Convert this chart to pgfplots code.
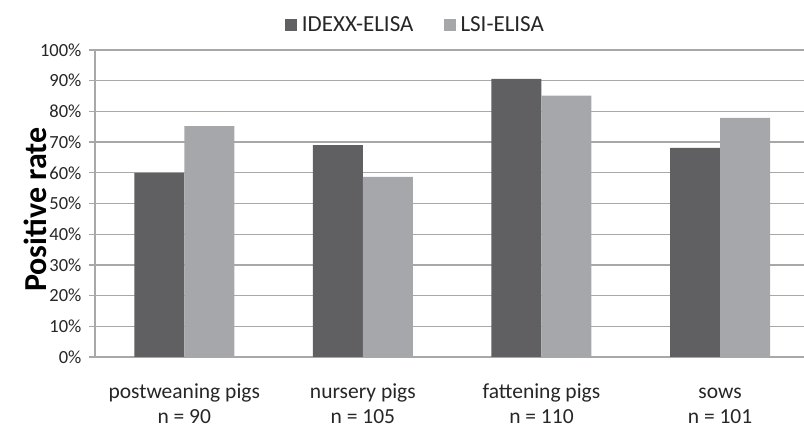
\documentclass[border=0pt]{standalone}
\usepackage{pgfplots}
\pgfplotsset{compat=1.18}
\usepackage{fontspec}
\setmainfont{Carlito}
\definecolor{darkbar}{HTML}{606062}
\definecolor{lightbar}{HTML}{A6A7AA}
\definecolor{gridc}{HTML}{A8A8A8}
\definecolor{txt}{HTML}{262626}
\begin{document}
\begin{tikzpicture}
\begin{axis}[
  scale only axis, width=709pt, height=307pt,
  ymin=0, ymax=100, ytick={0,10,...,100},
  yticklabel={\pgfmathprintnumber{\tick}\%},
  /pgf/number format/assume math mode=true,
  yticklabel style={font=\fontsize{18.5}{20}\selectfont, text=txt, xshift=-4pt},
  xmin=-0.5, xmax=3.47,
  xtick={0,1,2,3},
  xticklabels={{\strut postweaning pigs\\\strut n = 90},{\strut nursery pigs\\\strut n = 105},{\strut fattening pigs\\\strut n = 110},{\strut sows\\\strut n = 101}},
  xticklabel style={align=center, font=\fontsize{21.5}{25}\selectfont, text=txt, yshift=-14pt},
  x tick style={draw=none},
  extra x ticks={-0.5,0.5,1.5,2.5},
  extra x tick labels={},
  extra x tick style={grid=none, major tick length=8pt, tick align=outside, tick style={gridc, line width=1.3pt}},
  y tick style={gridc, line width=1.3pt},
  tick align=outside, major tick length=6pt,
  ybar=0pt, bar width=50pt,
  ymajorgrids, grid style={gridc, line width=1.3pt},
  axis x line*=bottom, axis y line*=left,
  axis line style={gridc, line width=1.3pt},
  every axis y label/.style={at={(axis description cs:-0.0846,0.48)}, rotate=90, anchor=center},
  ylabel={\fontsize{32}{36}\selectfont\bfseries Positive rate},
  legend columns=2,
  legend style={at={(axis description cs:0.452,1)}, anchor=center, yshift=25pt, draw=none, fill=none,
    font=\fontsize{23}{26}\selectfont, text=txt,
    /tikz/every even column/.append style={column sep=28pt}},
  legend image code/.code={\fill[#1] (0pt,-6pt) rectangle (12pt,6pt); \path (15pt,0pt);},
]
\addplot[fill=darkbar, draw=none] coordinates {(0,60) (1,69) (2,90.6) (3,68.1)};
\addplot[fill=lightbar, draw=none] coordinates {(0,75.2) (1,58.7) (2,85.1) (3,77.9)};
\legend{IDEXX-ELISA, LSI-ELISA}
\end{axis}
\pgfresetboundingbox
\path ([xshift=-95pt,yshift=-71pt]current axis.south west) rectangle ++(804pt,428pt);
\end{tikzpicture}
\end{document}
